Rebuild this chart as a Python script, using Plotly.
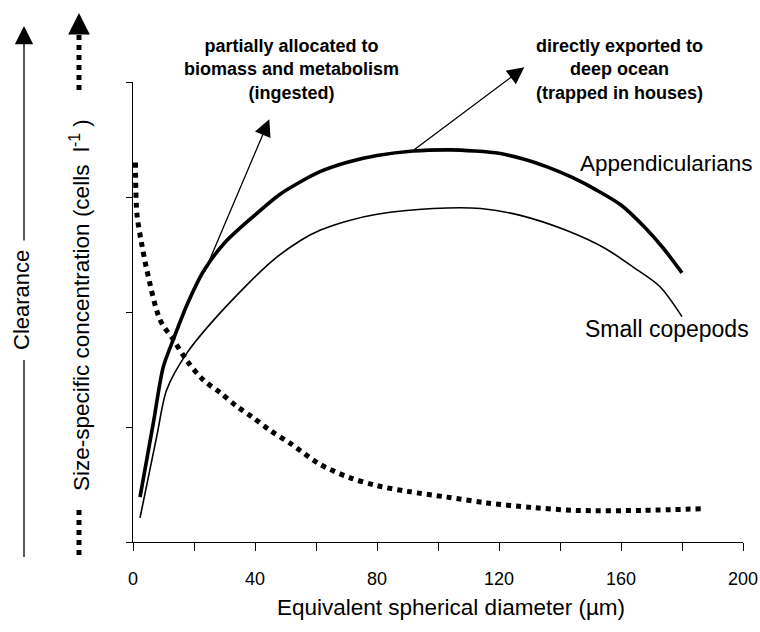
import plotly.graph_objects as go

# ---- data ----
app_x = [2.3, 6.7, 9.9, 13.2, 18, 23, 30, 39.4, 48, 54.8, 61.3, 70, 80, 91.8, 104, 112, 120, 128, 136, 144, 152, 160, 168, 174, 180]
app_y = [0.39, 1.04, 1.52, 1.76, 2.08, 2.35, 2.60, 2.83, 3.02, 3.13, 3.22, 3.30, 3.36, 3.40, 3.41, 3.40, 3.38, 3.33, 3.26, 3.17, 3.06, 2.93, 2.73, 2.55, 2.34]

cop_x = [2.3, 7.8, 11, 17.6, 28.5, 45, 54.8, 61.3, 70, 80, 98.4, 114, 127, 142, 155, 164, 172.8, 180]
cop_y = [0.21, 0.92, 1.32, 1.64, 1.99, 2.43, 2.62, 2.71, 2.79, 2.85, 2.90, 2.90, 2.84, 2.71, 2.55, 2.39, 2.22, 1.96]

conc_x = [0.8, 1.3, 2.8, 4.5, 8.9, 13.2, 17.6, 23, 28.5, 34, 39.4, 45, 52, 61, 71, 80, 90, 103, 116, 131, 145, 167, 187]
conc_y = [3.30, 2.85, 2.60, 2.37, 1.93, 1.76, 1.58, 1.41, 1.30, 1.18, 1.08, 0.97, 0.85, 0.68, 0.56, 0.49, 0.44, 0.39, 0.34, 0.30, 0.275, 0.275, 0.29]

x_tickvals = [0, 20, 40, 60, 80, 100, 120, 140, 160, 180, 200]
x_ticktext = ["0", "", "40", "", "80", "", "120", "", "160", "", "200"]
y_tickvals = [0, 1, 2, 3, 4]

FONT = "Liberation Sans, Arial, sans-serif"

fig = go.Figure()
fig.add_trace(go.Scatter(x=conc_x, y=conc_y, mode="lines",
                         line=dict(color="black", width=5, dash="5px,5px", shape="spline", smoothing=0.9),
                         hoverinfo="skip"))
fig.add_trace(go.Scatter(x=cop_x, y=cop_y, mode="lines",
                         line=dict(color="black", width=1.6, shape="spline", smoothing=0.8),
                         hoverinfo="skip"))
fig.add_trace(go.Scatter(x=app_x, y=app_y, mode="lines",
                         line=dict(color="black", width=3.6, shape="spline", smoothing=0.8),
                         hoverinfo="skip"))

W, H = 760, 632
L, R, T, B = 133, 17, 82, 90
pw, ph = W - L - R, H - T - B

def px(x):
    return (x - L) / pw

def py(y):
    return (H - B - y) / ph

def label(x, y, text, size, bold=False, angle=0):
    return dict(xref="paper", yref="paper", x=px(x), y=py(y), xanchor="center", yanchor="middle",
                showarrow=False, textangle=angle, align="center",
                text=("<b>%s</b>" % text) if bold else text,
                font=dict(family=FONT, size=size, color="black"))

annotations = []
# bold callouts
annotations.append(label(291, 69, "partially allocated to<br>biomass and metabolism<br>(ingested)", 18, bold=True))
annotations.append(label(619, 69, "directly exported to<br>deep ocean<br>(trapped in houses)", 18, bold=True))
# arrows in data coords
annotations.append(dict(xref="x", yref="y", axref="x", ayref="y", x=44.7, y=3.676, ax=23.3, ay=2.34,
                        text="", showarrow=True, arrowhead=2, arrowsize=2.6, arrowwidth=1.3, arrowcolor="black"))
annotations.append(dict(xref="x", yref="y", axref="x", ayref="y", x=128.3, y=4.128, ax=91.8, ay=3.403,
                        text="", showarrow=True, arrowhead=2, arrowsize=2.6, arrowwidth=1.3, arrowcolor="black"))
# curve labels
annotations.append(label(666, 163, "Appendicularians", 22.5))
annotations.append(label(667, 329, "Small copepods", 23))
# axis titles
annotations.append(label(451, 607, "Equivalent spherical diameter (\u00b5m)", 22.5))
annotations.append(label(80, 305, "Size-specific concentration (cells  l<sup>-1</sup> )", 22.5, angle=-90))
annotations.append(label(21, 300, "Clearance", 22, angle=-90))
# left arrowheads
annotations.append(dict(xref="paper", yref="paper", x=px(24), y=py(26), ax=0, ay=216,
                        text="", showarrow=True, arrowhead=2, arrowsize=2.8, arrowwidth=1.3, arrowcolor="black"))
annotations.append(dict(xref="paper", yref="paper", x=px(79), y=py(13), ax=0, ay=20,
                        text="", showarrow=True, arrowhead=2, arrowsize=2.4, arrowwidth=1.8, arrowcolor="black"))

shapes = [
    dict(type="line", xref="paper", yref="paper", x0=px(24), x1=px(24), y0=py(360), y1=py(557),
         line=dict(color="black", width=1.3)),
    dict(type="line", xref="paper", yref="paper", x0=px(79), x1=px(79), y0=py(35), y1=py(92),
         line=dict(color="black", width=5, dash="5px,5px")),
    dict(type="line", xref="paper", yref="paper", x0=px(79), x1=px(79), y0=py(510), y1=py(558),
         line=dict(color="black", width=5, dash="5px,5px")),
]

fig.update_layout(
    width=W, height=H,
    margin=dict(l=L, r=R, t=T, b=B, autoexpand=False),
    paper_bgcolor="white", plot_bgcolor="white",
    showlegend=False,
    font=dict(family=FONT, color="black"),
    annotations=annotations,
    shapes=shapes,
    xaxis=dict(range=[0, 200], tickmode="array", tickvals=x_tickvals, ticktext=x_ticktext,
               ticks="outside", ticklen=8, tickwidth=1.3, tickcolor="black",
               showline=True, linecolor="black", linewidth=1.3, showgrid=False, zeroline=False,
               tickfont=dict(family=FONT, size=18, color="black"), ticklabelstandoff=12),
    yaxis=dict(range=[0, 4], tickmode="array", tickvals=y_tickvals, showticklabels=False,
               ticks="outside", ticklen=6, tickwidth=1.3, tickcolor="black",
               showline=True, linecolor="black", linewidth=1.3, showgrid=False, zeroline=False),
)

fig.write_html("out.html")
